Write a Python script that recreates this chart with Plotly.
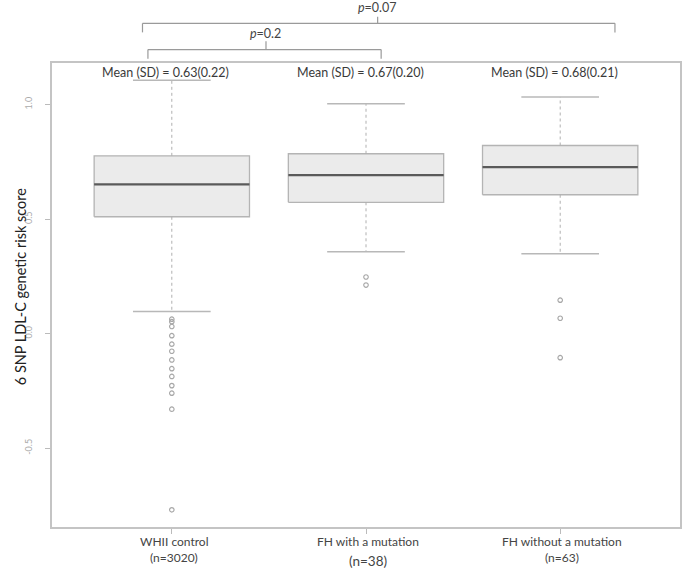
"""
Box plot of 6 SNP LDL-C genetic risk score by group
"""
import plotly.graph_objects as go

# data
groups = ["WHII control", "FH with a mutation", "FH without a mutation"]
n_labels = ["(n=3020)", "(n=38)", "(n=63)"]
positions = [1, 2, 3]
q1 = [0.510, 0.573, 0.606]
median = [0.651, 0.692, 0.727]
q3 = [0.776, 0.785, 0.821]
lower_whisker = [0.096, 0.357, 0.349]
upper_whisker = [1.106, 1.003, 1.033]
outliers_whii = [0.063, 0.052, 0.031, -0.009, -0.046, -0.077, -0.115, -0.153,
                 -0.187, -0.227, -0.260, -0.330, -0.769]
outliers_fh_mut = [0.247, 0.212]
outliers_fh_nomut = [0.146, 0.067, -0.105]
mean_sd_labels = ["Mean (SD) = 0.63(0.22)", "Mean (SD) = 0.67(0.20)", "Mean (SD) = 0.68(0.21)"]
p_values = ["0.2", "0.07"]

FONT = "Lato, 'Open Sans', sans-serif"
BOX_HALF = 0.4
CAP_HALF = 0.2

fig = go.Figure()

outliers = [outliers_whii, outliers_fh_mut, outliers_fh_nomut]
for i, c in enumerate(positions):
    # box body
    fig.add_trace(go.Scatter(
        x=[c - BOX_HALF, c + BOX_HALF, c + BOX_HALF, c - BOX_HALF, c - BOX_HALF],
        y=[q1[i], q1[i], q3[i], q3[i], q1[i]],
        mode='lines', fill='toself', fillcolor='#ebebeb',
        line=dict(color='#b4b4b4', width=1.3),
        showlegend=False, hoverinfo='skip',
    ))
    # median
    fig.add_trace(go.Scatter(
        x=[c - BOX_HALF, c + BOX_HALF], y=[median[i], median[i]],
        mode='lines', line=dict(color='#5a5a5a', width=2.2),
        showlegend=False, hoverinfo='skip',
    ))
    # dotted whiskers
    for a, b in [(q3[i], upper_whisker[i]), (q1[i], lower_whisker[i])]:
        fig.add_trace(go.Scatter(
            x=[c, c], y=[a, b], mode='lines',
            line=dict(color='#b0b0b0', width=1, dash='dot'),
            showlegend=False, hoverinfo='skip',
        ))
    # caps
    for v in [upper_whisker[i], lower_whisker[i]]:
        fig.add_trace(go.Scatter(
            x=[c - CAP_HALF, c + CAP_HALF], y=[v, v], mode='lines',
            line=dict(color='#b8b8b8', width=1.5),
            showlegend=False, hoverinfo='skip',
        ))
    # outliers
    fig.add_trace(go.Scatter(
        x=[c] * len(outliers[i]), y=outliers[i], mode='markers',
        marker=dict(symbol='circle-open', size=4.5, color='#a8a8a8', line=dict(width=1.2)),
        showlegend=False, hoverinfo='skip',
    ))

def label(x, y, text, size, color='#444444', xref='x', angle=0):
    fig.add_annotation(x=x, y=y, xref=xref, yref='paper', text=text, textangle=angle,
                       xanchor='center', yanchor='middle', showarrow=False,
                       font=dict(family=FONT, size=size, color=color))

# mean (SD) labels above each box
for c, txt in zip(positions, mean_sd_labels):
    label(c - 0.03, 0.980, txt, 12.5, '#3a3a3a')

# x category labels
n_y = [-0.0668, -0.0733, -0.0647]
n_size = [12, 13.5, 12]
for i, c in enumerate(positions):
    label(c + 0.01, -0.0323, groups[i], 12)
    label(c + 0.01, n_y[i], n_labels[i], n_size[i])

# y title
label(-0.0508, 0.517, "6 SNP LDL-C genetic risk score", 14.5, '#222222', xref='paper', angle=-90)

# significance brackets
brackets = [
    # left, right, centre, horizontal y, end y, tick top, text y
    (0.877, 2.078, 1.485, 1.029, 1.009, 1.047, 1.064),
    (0.849, 3.282, 2.060, 1.0855, 1.066, 1.0995, 1.1196),
]
for (l, r, m, hy, ey, ty, texty), p in zip(brackets, p_values):
    line = dict(color='#9a9a9a', width=1.2)
    fig.add_shape(type='line', xref='x', yref='paper', x0=l, x1=r, y0=hy, y1=hy, line=line)
    fig.add_shape(type='line', xref='x', yref='paper', x0=l, x1=l, y0=hy, y1=ey, line=line)
    fig.add_shape(type='line', xref='x', yref='paper', x0=r, x1=r, y0=hy, y1=ey, line=line)
    fig.add_shape(type='line', xref='x', yref='paper', x0=m, x1=m, y0=hy, y1=ty, line=line)
    label(m, texty, f"<i>p</i>={p}", 12.5)

fig.update_layout(
    width=686, height=570,
    margin=dict(l=52, r=4, t=63, b=43),
    plot_bgcolor='white', paper_bgcolor='white',
    showlegend=False,
    xaxis=dict(
        range=[0.383, 3.617], tickvals=positions, ticktext=['', '', ''],
        ticks='outside', ticklen=5, tickcolor='#bbbbbb',
        showline=True, linecolor='#c4c4c4', linewidth=1.5, mirror=True,
        showgrid=False, zeroline=False,
    ),
    yaxis=dict(
        range=[-0.844, 1.181], tickvals=[-0.5, 0.0, 0.5, 1.0],
        ticktext=['-0.5', '0.0', '0.5', '1.0'], tickangle=-90,
        ticks='outside', ticklen=5, tickcolor='#bbbbbb',
        tickfont=dict(family=FONT, size=9, color='#aaaaaa'),
        ticklabelstandoff=10,
        showline=True, linecolor='#c4c4c4', linewidth=1.5, mirror=True,
        showgrid=False, zeroline=False,
    ),
)

# drop the default 8px body margin so the figure sits at the window's corner
fig.write_html("out.html", config={'displayModeBar': False},
               post_script="document.body.style.margin='0px';")
